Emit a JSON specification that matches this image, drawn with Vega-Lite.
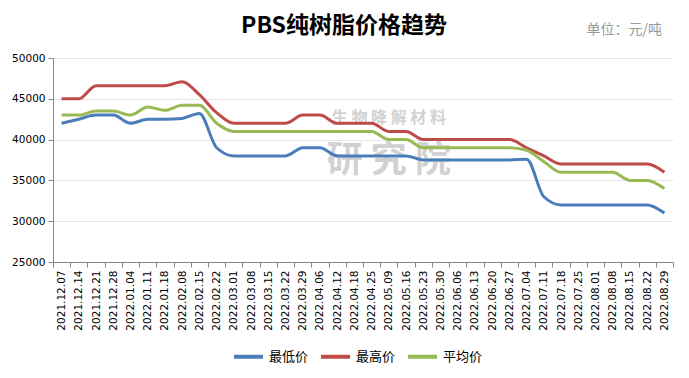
{
  "$schema": "https://vega.github.io/schema/vega-lite/v6.json",
  "width": 620,
  "height": 204,
  "autosize": {"type": "none"},
  "padding": {"left": 53, "top": 58, "right": 16, "bottom": 116},
  "background": "white",
  "title": {
    "text": "PBS纯树脂价格趋势",
    "font": "Noto Sans CJK SC",
    "fontSize": 23,
    "fontWeight": "bold",
    "color": "#000000",
    "anchor": "middle",
    "dx": -19,
    "offset": -16
  },
  "config": {
    "view": {"stroke": null},
    "axis": {"labelFont": "DejaVu Sans", "labelFontSize": 10.5, "labelColor": "#000000", "domainColor": "#888888", "tickColor": "#888888", "tickSize": 5}
  },
  "datasets": {
    "prices": [
      {"date": "2021.12.07", "series": "最低价", "price": 42000},
      {"date": "2021.12.14", "series": "最低价", "price": 42500},
      {"date": "2021.12.21", "series": "最低价", "price": 43000},
      {"date": "2021.12.28", "series": "最低价", "price": 43000},
      {"date": "2022.01.04", "series": "最低价", "price": 42000},
      {"date": "2022.01.11", "series": "最低价", "price": 42500},
      {"date": "2022.01.18", "series": "最低价", "price": 42500},
      {"date": "2022.02.08", "series": "最低价", "price": 42600},
      {"date": "2022.02.15", "series": "最低价", "price": 43200},
      {"date": "2022.02.22", "series": "最低价", "price": 39000},
      {"date": "2022.03.01", "series": "最低价", "price": 38000},
      {"date": "2022.03.08", "series": "最低价", "price": 38000},
      {"date": "2022.03.15", "series": "最低价", "price": 38000},
      {"date": "2022.03.22", "series": "最低价", "price": 38000},
      {"date": "2022.03.29", "series": "最低价", "price": 39000},
      {"date": "2022.04.06", "series": "最低价", "price": 39000},
      {"date": "2022.04.12", "series": "最低价", "price": 38000},
      {"date": "2022.04.18", "series": "最低价", "price": 38000},
      {"date": "2022.04.25", "series": "最低价", "price": 38000},
      {"date": "2022.05.09", "series": "最低价", "price": 38000},
      {"date": "2022.05.16", "series": "最低价", "price": 38000},
      {"date": "2022.05.23", "series": "最低价", "price": 37500},
      {"date": "2022.05.30", "series": "最低价", "price": 37500},
      {"date": "2022.06.06", "series": "最低价", "price": 37500},
      {"date": "2022.06.13", "series": "最低价", "price": 37500},
      {"date": "2022.06.20", "series": "最低价", "price": 37500},
      {"date": "2022.06.27", "series": "最低价", "price": 37500},
      {"date": "2022.07.04", "series": "最低价", "price": 37600},
      {"date": "2022.07.11", "series": "最低价", "price": 33000},
      {"date": "2022.07.18", "series": "最低价", "price": 32000},
      {"date": "2022.07.25", "series": "最低价", "price": 32000},
      {"date": "2022.08.01", "series": "最低价", "price": 32000},
      {"date": "2022.08.08", "series": "最低价", "price": 32000},
      {"date": "2022.08.15", "series": "最低价", "price": 32000},
      {"date": "2022.08.22", "series": "最低价", "price": 32000},
      {"date": "2022.08.29", "series": "最低价", "price": 31000},
      {"date": "2021.12.07", "series": "最高价", "price": 45000},
      {"date": "2021.12.14", "series": "最高价", "price": 45000},
      {"date": "2021.12.21", "series": "最高价", "price": 46600},
      {"date": "2021.12.28", "series": "最高价", "price": 46600},
      {"date": "2022.01.04", "series": "最高价", "price": 46600},
      {"date": "2022.01.11", "series": "最高价", "price": 46600},
      {"date": "2022.01.18", "series": "最高价", "price": 46600},
      {"date": "2022.02.08", "series": "最高价", "price": 47100},
      {"date": "2022.02.15", "series": "最高价", "price": 45500},
      {"date": "2022.02.22", "series": "最高价", "price": 43300},
      {"date": "2022.03.01", "series": "最高价", "price": 42000},
      {"date": "2022.03.08", "series": "最高价", "price": 42000},
      {"date": "2022.03.15", "series": "最高价", "price": 42000},
      {"date": "2022.03.22", "series": "最高价", "price": 42000},
      {"date": "2022.03.29", "series": "最高价", "price": 43000},
      {"date": "2022.04.06", "series": "最高价", "price": 43000},
      {"date": "2022.04.12", "series": "最高价", "price": 42000},
      {"date": "2022.04.18", "series": "最高价", "price": 42000},
      {"date": "2022.04.25", "series": "最高价", "price": 42000},
      {"date": "2022.05.09", "series": "最高价", "price": 41000},
      {"date": "2022.05.16", "series": "最高价", "price": 41000},
      {"date": "2022.05.23", "series": "最高价", "price": 40000},
      {"date": "2022.05.30", "series": "最高价", "price": 40000},
      {"date": "2022.06.06", "series": "最高价", "price": 40000},
      {"date": "2022.06.13", "series": "最高价", "price": 40000},
      {"date": "2022.06.20", "series": "最高价", "price": 40000},
      {"date": "2022.06.27", "series": "最高价", "price": 40000},
      {"date": "2022.07.04", "series": "最高价", "price": 39000},
      {"date": "2022.07.11", "series": "最高价", "price": 38000},
      {"date": "2022.07.18", "series": "最高价", "price": 37000},
      {"date": "2022.07.25", "series": "最高价", "price": 37000},
      {"date": "2022.08.01", "series": "最高价", "price": 37000},
      {"date": "2022.08.08", "series": "最高价", "price": 37000},
      {"date": "2022.08.15", "series": "最高价", "price": 37000},
      {"date": "2022.08.22", "series": "最高价", "price": 37000},
      {"date": "2022.08.29", "series": "最高价", "price": 36000},
      {"date": "2021.12.07", "series": "平均价", "price": 43000},
      {"date": "2021.12.14", "series": "平均价", "price": 43000},
      {"date": "2021.12.21", "series": "平均价", "price": 43500},
      {"date": "2021.12.28", "series": "平均价", "price": 43500},
      {"date": "2022.01.04", "series": "平均价", "price": 43000},
      {"date": "2022.01.11", "series": "平均价", "price": 44000},
      {"date": "2022.01.18", "series": "平均价", "price": 43600},
      {"date": "2022.02.08", "series": "平均价", "price": 44200},
      {"date": "2022.02.15", "series": "平均价", "price": 44200},
      {"date": "2022.02.22", "series": "平均价", "price": 42000},
      {"date": "2022.03.01", "series": "平均价", "price": 41000},
      {"date": "2022.03.08", "series": "平均价", "price": 41000},
      {"date": "2022.03.15", "series": "平均价", "price": 41000},
      {"date": "2022.03.22", "series": "平均价", "price": 41000},
      {"date": "2022.03.29", "series": "平均价", "price": 41000},
      {"date": "2022.04.06", "series": "平均价", "price": 41000},
      {"date": "2022.04.12", "series": "平均价", "price": 41000},
      {"date": "2022.04.18", "series": "平均价", "price": 41000},
      {"date": "2022.04.25", "series": "平均价", "price": 41000},
      {"date": "2022.05.09", "series": "平均价", "price": 40000},
      {"date": "2022.05.16", "series": "平均价", "price": 40000},
      {"date": "2022.05.23", "series": "平均价", "price": 39000},
      {"date": "2022.05.30", "series": "平均价", "price": 39000},
      {"date": "2022.06.06", "series": "平均价", "price": 39000},
      {"date": "2022.06.13", "series": "平均价", "price": 39000},
      {"date": "2022.06.20", "series": "平均价", "price": 39000},
      {"date": "2022.06.27", "series": "平均价", "price": 39000},
      {"date": "2022.07.04", "series": "平均价", "price": 38700},
      {"date": "2022.07.11", "series": "平均价", "price": 37300},
      {"date": "2022.07.18", "series": "平均价", "price": 36000},
      {"date": "2022.07.25", "series": "平均价", "price": 36000},
      {"date": "2022.08.01", "series": "平均价", "price": 36000},
      {"date": "2022.08.08", "series": "平均价", "price": 36000},
      {"date": "2022.08.15", "series": "平均价", "price": 35000},
      {"date": "2022.08.22", "series": "平均价", "price": 35000},
      {"date": "2022.08.29", "series": "平均价", "price": 34000}
    ],
    "watermark": [
      {"date": "2022.05.09", "price": 37400, "label": "研 究 院", "size": "big"},
      {"date": "2022.05.09", "price": 42600, "label": "生 物 降 解 材 料", "size": "small"}
    ]
  },
  "layer": [
    {
      "data": {"name": "watermark"},
      "mark": {"type": "text", "font": "Noto Sans CJK SC", "fontWeight": "bold", "color": "#9a9a9a", "opacity": 0.45, "align": "center", "baseline": "middle"},
      "encoding": {
        "x": {"field": "date", "type": "ordinal", "bandPosition": 0.5},
        "y": {"field": "price", "type": "quantitative"},
        "text": {"field": "label"},
        "size": {"field": "size", "type": "nominal", "scale": {"domain": ["big", "small"], "range": [36, 16]}, "legend": null}
      }
    },
    {
      "data": {"name": "prices"},
      "mark": {"type": "line", "interpolate": "monotone", "strokeWidth": 3},
      "encoding": {
        "x": {
          "field": "date",
          "type": "ordinal",
          "bandPosition": 0.5,
          "scale": {"type": "band", "paddingInner": 0, "paddingOuter": 0},
          "axis": {"title": null, "labelAngle": 270, "labelAlign": "right", "labelBaseline": "middle", "labelPadding": 3, "tickBand": "extent", "grid": false}
        },
        "y": {
          "field": "price",
          "type": "quantitative",
          "scale": {"domain": [25000, 50000], "nice": false, "zero": false},
          "axis": {
            "values": [25000, 30000, 35000, 40000, 45000, 50000],
            "format": "d",
            "labelPadding": 3,
            "grid": true,
            "gridColor": "#e6e6e6",
            "title": "单位：元/吨",
            "titleFont": "Noto Sans CJK SC",
            "titleFontSize": 14,
            "titleFontWeight": "normal",
            "titleColor": "#999999",
            "titleAngle": 0,
            "titleAlign": "left",
            "titleBaseline": "alphabetic",
            "titleX": 533,
            "titleY": -25
          }
        },
        "color": {
          "field": "series",
          "type": "nominal",
          "scale": {"domain": ["最低价", "最高价", "平均价"], "range": ["#4a7ebb", "#be4b48", "#98b954"]},
          "legend": {
            "title": null,
            "orient": "none",
            "direction": "horizontal",
            "legendX": 179,
            "legendY": 282,
            "symbolType": "stroke",
            "symbolSize": 841,
            "symbolStrokeWidth": 4,
            "labelFont": "Noto Sans CJK SC",
            "labelFontSize": 13,
            "labelColor": "#000000",
            "labelOffset": 4,
            "columnPadding": 4
          }
        }
      }
    }
  ]
}
